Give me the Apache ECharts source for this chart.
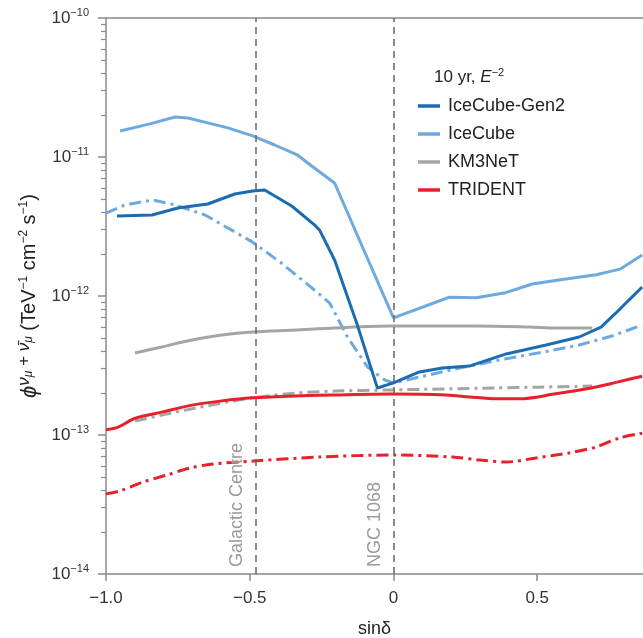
<!DOCTYPE html>
<html>
<head>
<meta charset="utf-8">
<script src="https://cdn.jsdelivr.net/npm/echarts@6/dist/echarts.min.js"></script>
<style>
  html, body { margin: 0; padding: 0; background: #fff; }
  #chart { width: 643px; height: 638px; }
</style>
</head>
<body>
<div id="chart"></div>
<script>
// sin(declination) samples and flux values
const gen2X = [-0.962, -0.84, -0.75, -0.646, -0.552, -0.49, -0.448, -0.354, -0.274, -0.257, -0.205, -0.128, -0.076, -0.056, 0.0, 0.09, 0.17, 0.264, 0.392, 0.531, 0.646, 0.722, 0.774, 0.819, 0.865];
const gen2Y = [3.77e-12, 3.83e-12, 4.3e-12, 4.59e-12, 5.42e-12, 5.69e-12, 5.79e-12, 4.44e-12, 3.24e-12, 2.98e-12, 1.82e-12, 6.4e-13, 2.94e-13, 2.18e-13, 2.37e-13, 2.84e-13, 3.03e-13, 3.13e-13, 3.83e-13, 4.44e-13, 5.07e-13, 5.98e-13, 7.55e-13, 9.35e-13, 1.16e-12];

const icX = [-0.951, -0.847, -0.76, -0.715, -0.576, -0.49, -0.413, -0.333, -0.274, -0.205, 0.0, 0.194, 0.288, 0.385, 0.483, 0.569, 0.705, 0.788, 0.865];
const icY = [1.54e-11, 1.73e-11, 1.94e-11, 1.91e-11, 1.62e-11, 1.42e-11, 1.22e-11, 1.03e-11, 8.3e-12, 6.5e-12, 6.95e-13, 9.8e-13, 9.7e-13, 1.05e-12, 1.22e-12, 1.3e-12, 1.42e-12, 1.56e-12, 1.97e-12];

const icDiscX = [-1.0, -0.934, -0.837, -0.76, -0.656, -0.552, -0.49, -0.389, -0.274, -0.222, -0.16, -0.09, -0.031, 0.0, 0.09, 0.229, 0.385, 0.524, 0.646, 0.76, 0.865];
const icDiscY = [3.95e-12, 4.52e-12, 4.91e-12, 4.52e-12, 3.83e-12, 2.89e-12, 2.44e-12, 1.72e-12, 1.1e-12, 8.9e-13, 5.07e-13, 3.08e-13, 2.49e-13, 2.37e-13, 2.61e-13, 3.03e-13, 3.52e-13, 3.96e-13, 4.44e-13, 5.15e-13, 6.18e-13];

const km3X = [-0.899, -0.806, -0.701, -0.597, -0.49, -0.344, -0.205, -0.007, 0.288, 0.472, 0.566, 0.691];
const km3Y = [3.89e-13, 4.3e-13, 4.82e-13, 5.24e-13, 5.51e-13, 5.69e-13, 5.89e-13, 6.08e-13, 6.08e-13, 5.98e-13, 5.89e-13, 5.89e-13];

const km3SensX = [-0.899, -0.806, -0.691, -0.576, -0.49, -0.344, -0.205, -0.007, 0.358, 0.507, 0.691];
const km3SensY = [1.26e-13, 1.39e-13, 1.56e-13, 1.73e-13, 1.85e-13, 2.0e-13, 2.07e-13, 2.11e-13, 2.18e-13, 2.21e-13, 2.25e-13];

const triX = [-1.0, -0.958, -0.899, -0.806, -0.701, -0.597, -0.49, -0.344, -0.205, -0.007, 0.184, 0.264, 0.358, 0.438, 0.559, 0.688, 0.778, 0.865];
const triY = [1.09e-13, 1.14e-13, 1.32e-13, 1.46e-13, 1.64e-13, 1.76e-13, 1.85e-13, 1.91e-13, 1.94e-13, 1.97e-13, 1.94e-13, 1.88e-13, 1.82e-13, 1.82e-13, 1.97e-13, 2.18e-13, 2.4e-13, 2.65e-13];

const triSensX = [-1.0, -0.951, -0.872, -0.788, -0.708, -0.628, -0.486, -0.257, 0.0, 0.205, 0.299, 0.392, 0.497, 0.611, 0.705, 0.785, 0.865];
const triSensY = [3.77e-14, 3.96e-14, 4.59e-14, 5.15e-14, 5.79e-14, 6.18e-14, 6.5e-14, 6.95e-14, 7.18e-14, 6.95e-14, 6.61e-14, 6.39e-14, 6.84e-14, 7.43e-14, 8.2e-14, 9.51e-14, 1.03e-13];

const xTicks = [-1.0, -0.5, 0, 0.5];
const yMajor = [1e-14, 1e-13, 1e-12, 1e-11, 1e-10];
const yMinor = [];
for (let e = -14; e < -10; e++) {
  for (let m = 2; m <= 9; m++) yMinor.push(m * Math.pow(10, e));
}
const sources = [
  { name: 'Galactic Centre', x: -0.485 },
  { name: 'NGC 1068', x: 0.0 }
];

const FONT = 'Liberation Sans';
const AXIS_C = '#8a8a8a';
const C_GEN2 = '#1c6cb3';
const C_IC = '#6eaadf';
const C_KM3 = '#a5a5a5';
const C_TRI = '#e8202c';
const DASHDOT = [12, 5, 3, 5];

const zip = (xs, ys) => xs.map((x, i) => [x, ys[i]]);

const chart = echarts.init(document.getElementById('chart'), null, { renderer: 'canvas' });

function lineSeries(name, xs, ys, color, dashed, smooth) {
  return {
    name: name,
    type: 'line',
    data: zip(xs, ys),
    symbol: 'none',
    smooth: smooth,
    lineStyle: { color: color, width: 3, type: dashed ? DASHDOT : 'solid' },
    itemStyle: { color: color },
    emphasis: { disabled: true },
    z: 3
  };
}

const supRich = {
  b: { fontSize: 17, fontFamily: FONT, color: '#333' },
  s: { fontSize: 11, fontFamily: FONT, color: '#333', padding: [0, 0, 10, 0] }
};

const option = {
  animation: false,
  grid: { left: 106, right: 0, top: 18, bottom: 64, containLabel: false, outerBoundsMode: 'none' },
  title: {
    text: '10 yr, {i|E}{s|−2}',
    left: 429,
    top: 62,
    textStyle: {
      fontSize: 17, fontWeight: 'normal', fontFamily: FONT, color: '#222',
      rich: {
        i: { fontSize: 17, fontStyle: 'italic', fontFamily: FONT, color: '#222' },
        s: { fontSize: 11, fontFamily: FONT, color: '#222', padding: [0, 0, 10, 0] }
      }
    }
  },
  legend: {
    data: ['IceCube-Gen2', 'IceCube', 'KM3NeT', 'TRIDENT'],
    orient: 'vertical',
    left: 413,
    top: 92,
    icon: 'rect',
    itemWidth: 22,
    itemHeight: 3.5,
    itemGap: 10,
    selectedMode: false,
    textStyle: { fontSize: 18, fontFamily: FONT, color: '#222', padding: [0, 0, 0, 3] }
  },
  xAxis: [
    {
      type: 'value',
      min: -1,
      max: 0.868,
      name: 'sinδ',
      nameLocation: 'middle',
      nameGap: 46,
      nameTextStyle: { fontSize: 18, fontFamily: FONT, color: '#222' },
      axisLine: { show: true, onZero: false, lineStyle: { color: AXIS_C, width: 1.5 } },
      axisTick: { show: true, length: 7, customValues: xTicks, lineStyle: { color: AXIS_C, width: 1.5 } },
      axisLabel: {
        customValues: xTicks,
        margin: 16,
        fontSize: 17,
        fontFamily: FONT,
        color: '#333',
        formatter: (v) => (v === 0 ? '0' : v.toFixed(1).replace('-', '−'))
      },
      splitLine: { show: false }
    },
    {
      type: 'value',
      position: 'top',
      min: -1,
      max: 0.868,
      axisLine: { show: true, onZero: false, lineStyle: { color: AXIS_C, width: 1.5 } },
      axisTick: { show: false },
      axisLabel: { show: false },
      splitLine: { show: false }
    }
  ],
  yAxis: [
    {
      type: 'log',
      logBase: 10,
      min: 1e-14,
      max: 1e-10,
      name: '{p|ϕ}{n|ν}{m|μ}{n| + ν̄}{m|μ}{t| (TeV}{s|−1}{t| cm}{s|−2}{t| s}{s|−1}{t|)}',
      nameLocation: 'middle',
      nameGap: 57,
      nameRotate: 90,
      nameTextStyle: {
        fontFamily: FONT,
        color: '#222',
        rich: {
          p: { fontSize: 22, fontStyle: 'italic', fontFamily: FONT, color: '#222' },
          n: { fontSize: 17, fontStyle: 'italic', fontFamily: FONT, color: '#222', padding: [0, 0, 10, 0] },
          m: { fontSize: 12, fontStyle: 'italic', fontFamily: FONT, color: '#222', padding: [0, 0, 2, 0] },
          t: { fontSize: 20, fontFamily: FONT, color: '#222' },
          s: { fontSize: 12, fontFamily: FONT, color: '#222', padding: [0, 0, 12, 0] }
        }
      },
      axisLine: { show: true, onZero: false, lineStyle: { color: AXIS_C, width: 1.5 } },
      axisTick: { show: true, inside: false, length: 8, customValues: yMajor, lineStyle: { color: AXIS_C, width: 1.5 } },
      axisLabel: {
        customValues: yMajor,
        margin: 17,
        formatter: (v) => '{b|10}{s|' + String(Math.round(Math.log10(v))).replace('-', '−') + '}',
        rich: supRich
      },
      splitLine: { show: false }
    },
    {
      type: 'log',
      logBase: 10,
      min: 1e-14,
      max: 1e-10,
      position: 'left',
      axisLine: { show: true, onZero: false, lineStyle: { color: 'rgba(0,0,0,0)', width: 1 } },
      axisTick: { show: true, inside: false, length: 5, customValues: yMinor, lineStyle: { color: AXIS_C, width: 1.2 } },
      axisLabel: { show: false },
      splitLine: { show: false }
    }
  ],
  series: [
    Object.assign(lineSeries('IceCube', icX, icY, C_IC, false, false), {
      markLine: {
        silent: true,
        symbol: 'none',
        lineStyle: { color: '#666', width: 1.5, type: [7, 5] },
        label: {
          show: true,
          position: 'insideStartTop',
          formatter: (p) => p.name,
          distance: [7, 9],
          fontSize: 18,
          fontFamily: FONT,
          color: '#9a9a9a'
        },
        data: sources.map((s) => ({ name: s.name, xAxis: s.x }))
      }
    }),
    lineSeries('IceCube discovery', icDiscX, icDiscY, C_IC, true, false),
    lineSeries('KM3NeT', km3X, km3Y, C_KM3, false, 0.3),
    lineSeries('KM3NeT discovery', km3SensX, km3SensY, C_KM3, true, 0.3),
    lineSeries('TRIDENT', triX, triY, C_TRI, false, 0.3),
    lineSeries('TRIDENT discovery', triSensX, triSensY, C_TRI, true, 0.3),
    lineSeries('IceCube-Gen2', gen2X, gen2Y, C_GEN2, false, false)
  ]
};

chart.setOption(option);
</script>
</body>
</html>
